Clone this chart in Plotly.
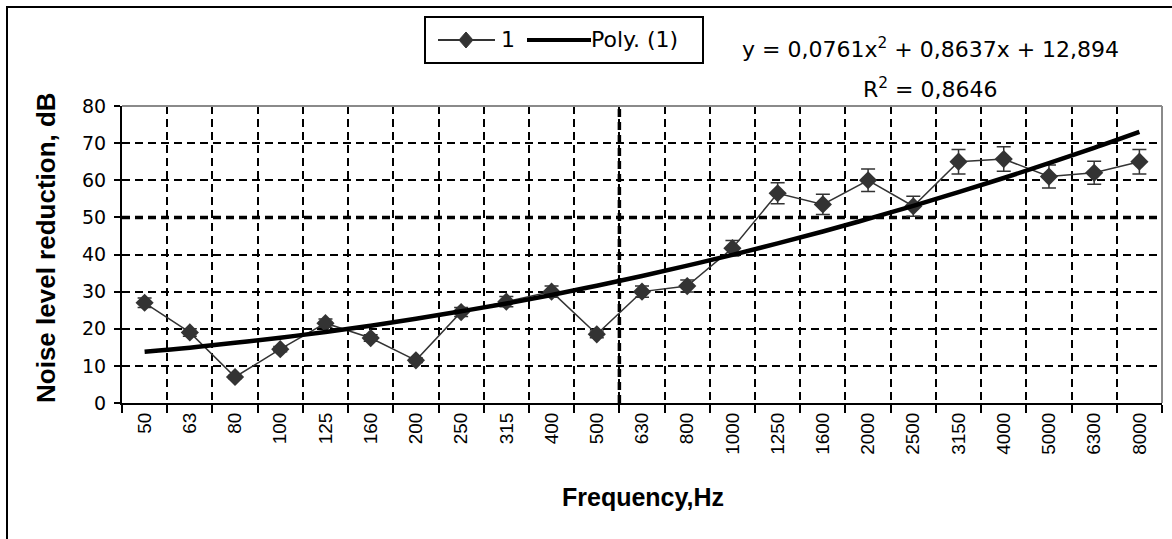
import plotly.graph_objects as go

# ---- data ----
freq_labels = ["50", "63", "80", "100", "125", "160", "200", "250", "315", "400",
               "500", "630", "800", "1000", "1250", "1600", "2000", "2500", "3150",
               "4000", "5000", "6300", "8000"]
reduction = [27.0, 19.0, 7.0, 14.5, 21.5, 17.5, 11.5, 24.5, 27.3, 30.0, 18.5, 30.0,
             31.5, 41.7, 56.5, 53.5, 60.0, 53.0, 65.0, 65.7, 61.0, 62.0, 65.0]
reduction_err = [1.3, 1.0, 0.4, 0.7, 1.1, 0.9, 0.6, 1.2, 1.4, 1.5, 0.9, 1.5,
                 1.6, 2.1, 2.8, 2.7, 3.0, 2.7, 3.3, 3.3, 3.1, 3.1, 3.3]
# polynomial trend line (Poly. (1)) as drawn in the reference
trend = [13.8, 14.9, 16.2, 17.6, 19.1, 20.8, 22.7, 24.7, 26.8, 29.1, 31.6, 34.2,
         37.0, 39.9, 43.0, 46.2, 49.6, 53.1, 56.8, 60.6, 64.6, 68.7, 73.0]
y_ticks = [0, 10, 20, 30, 40, 50, 60, 70, 80]
series_names = ["1", "Poly. (1)"]
eq_text = "y = 0,0761x<sup>2</sup> + 0,8637x + 12,894"
r2_text = "R<sup>2</sup> = 0,8646"
x_title = "<b>Frequency,Hz</b>"
y_title = "<b>Noise level reduction, dB</b>"

W, H = 1172, 539
L, R, T, B = 122, 10, 106, 136
pw, ph = W - L - R, H - T - B


def px(xp):
    return (xp - L) / pw


def py(yp):
    return (H - B - yp) / ph


dark = "#333333"
dash = "8px,5px"

fig = go.Figure()
fig.add_trace(go.Scatter(
    x=freq_labels, y=reduction, name=series_names[0], mode="lines+markers",
    line=dict(color=dark, width=1.5),
    marker=dict(symbol="diamond", size=14, color=dark),
    error_y=dict(type="data", array=reduction_err, visible=True,
                 color=dark, thickness=1.5, width=7),
))
fig.add_trace(go.Scatter(
    x=freq_labels, y=trend, name=series_names[1], mode="lines",
    line=dict(color="black", width=4.5, shape="spline"),
))

fig.update_layout(
    width=W, height=H,
    margin=dict(l=L, r=R, t=T, b=B),
    paper_bgcolor="white", plot_bgcolor="white",
    font=dict(family="Liberation Sans", color="black"),
    showlegend=False,
    xaxis=dict(
        type="category", tickson="boundaries", range=[-0.5, len(freq_labels) - 0.5],
        ticks="outside", ticklen=8, tickwidth=2, tickcolor="black",
        showline=True, linecolor="black", linewidth=2,
        showgrid=True, gridcolor="black", gridwidth=2, griddash=dash,
        tickangle=-90, tickfont=dict(family="Liberation Sans", size=19, color="black"),
    ),
    yaxis=dict(
        range=[0, 80], tickvals=y_ticks,
        ticks="outside", ticklen=6, tickwidth=2, tickcolor="black",
        showline=True, linecolor="black", linewidth=2,
        showgrid=True, gridcolor="black", gridwidth=2, griddash=dash,
        zeroline=False, ticklabelstandoff=4,
        tickfont=dict(family="DejaVu Sans", size=19, color="black"),
    ),
)

# heavier grid lines seen in the reference
fig.add_shape(type="line", xref="paper", yref="y", x0=0, x1=1, y0=50, y1=50,
              line=dict(color="black", width=3.5, dash=dash), layer="below")
fig.add_shape(type="line", xref="x", yref="paper", x0=10.5, x1=10.5, y0=0, y1=1,
              line=dict(color="black", width=3.5, dash=dash), layer="below")

# gray top/right plot border, black outer chart frame
fig.add_shape(type="line", xref="paper", yref="paper", x0=0, x1=1, y0=1, y1=1,
              line=dict(color="#8a8a8a", width=2), layer="above")
fig.add_shape(type="line", xref="paper", yref="paper", x0=1, x1=1, y0=0, y1=1,
              line=dict(color="#8a8a8a", width=2), layer="above")
fig.add_shape(type="rect", xref="paper", yref="paper",
              x0=px(7), x1=px(1200), y0=py(560), y1=py(7),
              line=dict(color="black", width=2), layer="below")

# ---- legend box (drawn to match the reference's long legend keys) ----
ly = 40
fig.add_shape(type="rect", xref="paper", yref="paper",
              x0=px(425), x1=px(703), y0=py(63), y1=py(17),
              line=dict(color="black", width=2), fillcolor="white")
fig.add_shape(type="line", xref="paper", yref="paper",
              x0=px(438), x1=px(495), y0=py(ly), y1=py(ly),
              line=dict(color=dark, width=2))
dpath = "M {:.5f} {:.5f} L {:.5f} {:.5f} L {:.5f} {:.5f} L {:.5f} {:.5f} Z".format(
    px(466), py(ly - 8), px(473), py(ly), px(466), py(ly + 8), px(459), py(ly))
fig.add_shape(type="path", xref="paper", yref="paper", path=dpath,
              fillcolor=dark, line=dict(color=dark, width=1))
fig.add_annotation(text=series_names[0], xref="paper", yref="paper", x=px(499), y=py(ly),
                   xanchor="left", yanchor="middle", showarrow=False,
                   font=dict(family="DejaVu Sans", size=22, color="black"))
fig.add_shape(type="line", xref="paper", yref="paper",
              x0=px(527), x1=px(591), y0=py(ly), y1=py(ly),
              line=dict(color="black", width=4))
fig.add_annotation(text=series_names[1], xref="paper", yref="paper", x=px(589), y=py(ly),
                   xanchor="left", yanchor="middle", showarrow=False,
                   font=dict(family="DejaVu Sans", size=22, color="black"))

fig.add_annotation(text=eq_text, xref="paper", yref="paper", x=px(740), y=py(48),
                   xanchor="left", yanchor="middle", showarrow=False,
                   font=dict(family="DejaVu Sans", size=22, color="black"))
fig.add_annotation(text=r2_text, xref="paper", yref="paper", x=px(930), y=py(88),
                   xanchor="center", yanchor="middle", showarrow=False,
                   font=dict(family="DejaVu Sans", size=22, color="black"))
fig.add_annotation(text=x_title, xref="paper", yref="paper", x=px(643), y=py(497),
                   xanchor="center", yanchor="middle", showarrow=False,
                   font=dict(family="Liberation Sans", size=25, color="black"))
fig.add_annotation(text=y_title, xref="paper", yref="paper", x=px(46), y=py(248),
                   xanchor="center", yanchor="middle", showarrow=False, textangle=-90,
                   font=dict(family="Liberation Sans", size=26, color="black"))

fig.write_html("out.html", config={"displayModeBar": False},
               post_script="document.body.style.margin='0';document.body.style.overflow='hidden';")
